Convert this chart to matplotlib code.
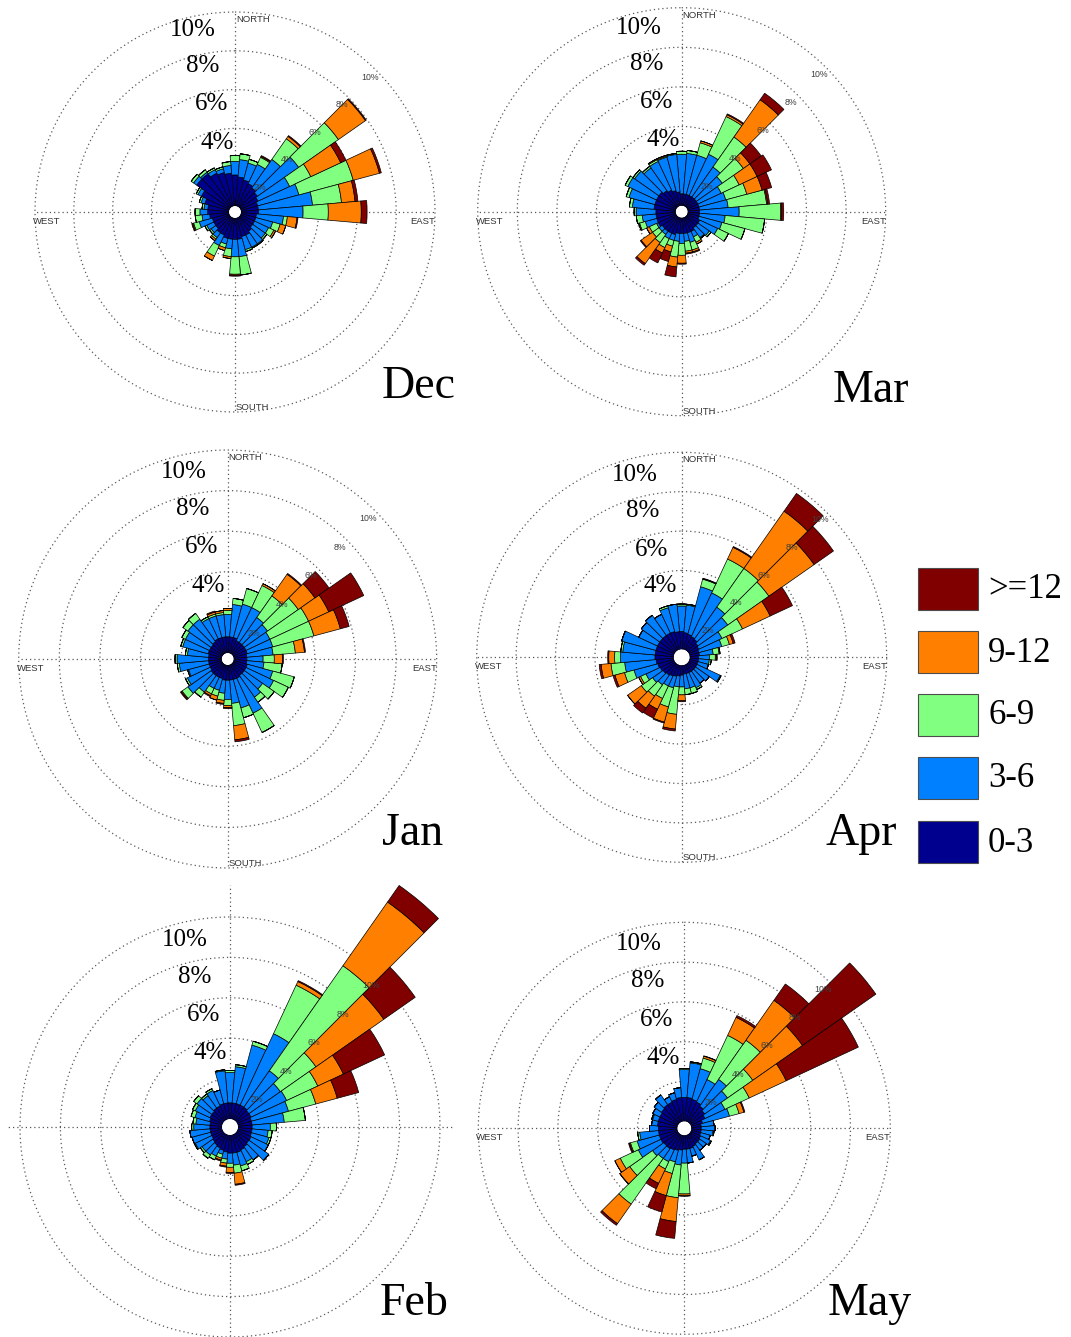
import numpy as np
import matplotlib
matplotlib.use("Agg")
import matplotlib.pyplot as plt
from matplotlib.patches import Rectangle

# ---------------- data (cumulative % per direction, 0..350 deg step 10) ----------------
DIRECTIONS = list(range(0, 360, 10))
SPEED_LABELS = [">=12", "9-12", "6-9", "3-6", "0-3"]
SPEED_COLORS = ["#800000", "#ff8000", "#80ff80", "#0080ff", "#00008f"]  # same order as labels

DEC_LT3 = [1.6,1.5,1.4,1.3,1.2,1.1,1.0,0.9,0.9,0.9,0.8,0.8,0.8,0.8,0.9,1.0,1.0,1.1,1.1,1.1,1.1,1.0,1.0,0.9,0.9,0.9,1.0,1.1,1.1,1.3,1.6,2.1,2.1,1.9,1.8,1.7]
DEC_LT6 = [2.3,2.4,2.3,2.4,3.0,3.7,2.8,3.1,3.7,3.2,2.2,1.7,1.6,1.6,1.7,1.7,1.7,2.0,2.0,1.6,1.4,1.6,1.3,1.2,1.3,1.6,1.4,1.5,1.3,1.5,1.8,2.3,2.2,2.1,2.0,2.1]
DEC_LT9 = [2.6,2.7,2.5,2.8,4.3,6.2,4.0,6.0,5.2,4.5,2.4,2.1,1.9,1.7,1.75,1.75,1.8,2.95,2.9,2.0,1.6,2.2,1.4,1.3,1.4,1.9,1.75,1.75,1.4,1.6,1.9,2.45,2.35,2.2,2.1,2.3]
DEC_LT12 = [2.6,2.7,2.5,2.85,4.45,7.9,5.7,7.4,5.9,6.2,2.9,2.4,2.0,1.7,1.75,1.75,1.8,2.95,2.95,2.1,1.75,2.45,1.5,1.3,1.4,1.95,1.75,1.75,1.4,1.6,1.9,2.45,2.35,2.2,2.1,2.3]
DEC_ALL = [2.6,2.7,2.5,2.9,4.5,7.95,6.0,7.5,6.05,6.5,2.95,2.4,2.0,1.7,1.75,1.75,1.8,2.95,3.0,2.1,1.75,2.45,1.5,1.3,1.4,2.0,1.75,1.75,1.4,1.6,1.9,2.45,2.35,2.2,2.1,2.3]

MAR_LT3 = [0.6,0.6,0.6,0.6,0.6,0.6,0.6,0.6,0.6,0.6,0.6,0.6,0.7,0.7,0.7,0.8,0.8,0.8,0.8,0.8,0.9,0.9,0.9,0.9,1.0,1.0,1.0,1.0,1.1,1.1,1.1,1.1,1.0,0.9,0.8,0.7]
MAR_LT6 = [2.6,2.65,2.65,2.9,2.45,2.2,1.9,2.0,2.05,2.6,1.9,1.8,1.7,1.4,1.3,1.1,1.3,1.2,1.3,1.2,1.2,1.2,1.1,1.1,1.1,1.6,1.7,2.0,2.2,2.45,2.7,2.6,2.4,2.5,2.55,2.6]
MAR_LT9 = [2.75,2.8,3.3,5.0,4.3,3.5,2.9,3.1,4.0,4.7,3.9,3.0,2.3,1.5,1.35,1.4,1.7,1.7,1.9,2.0,1.5,1.7,1.6,1.5,1.5,1.9,2.0,2.1,2.35,2.6,2.85,2.7,2.5,2.6,2.6,2.65]
MAR_LT12 = [2.75,2.8,3.4,5.1,6.6,3.9,3.9,3.9,4.05,4.75,3.9,3.0,2.3,1.5,1.35,1.5,1.8,1.8,2.3,2.5,1.8,2.0,2.9,2.2,1.65,1.95,2.0,2.1,2.35,2.6,2.85,2.7,2.5,2.65,2.65,2.65]
MAR_ALL = [2.75,2.8,3.4,5.15,7.0,4.6,4.7,4.4,4.15,4.85,3.9,3.0,2.3,1.5,1.35,1.5,1.85,1.85,2.35,3.0,2.3,2.55,3.0,2.25,1.65,1.95,2.0,2.1,2.35,2.6,2.85,2.7,2.5,2.65,2.65,2.65]

JAN_LT3 = [0.8,0.8,0.8,0.7,0.7,0.7,0.7,0.7,0.65,0.65,0.65,0.7,0.7,0.7,0.7,0.75,0.75,0.75,0.75,0.75,0.7,0.7,0.7,0.7,0.65,0.65,0.65,0.65,0.65,0.7,0.7,0.7,0.75,0.8,0.8,0.8]
JAN_LT6 = [1.9,2.4,2.5,2.5,2.2,2.1,2.0,2.0,1.95,1.45,1.5,2.0,2.2,1.8,2.0,2.65,2.2,1.9,1.7,1.4,1.3,1.3,1.7,2.1,1.9,1.7,2.1,2.2,1.7,2.0,2.0,2.1,2.1,1.9,1.9,1.9]
JAN_LT9 = [2.1,2.7,3.3,3.7,3.5,3.95,4.1,4.1,3.05,2.0,2.4,3.1,3.0,2.5,2.3,3.7,2.7,3.0,2.0,1.75,1.6,1.6,2.0,2.45,2.0,1.75,2.2,2.3,1.8,2.1,2.2,2.4,2.45,2.0,2.0,2.0]
JAN_LT12 = [2.2,2.7,3.3,3.8,4.8,4.95,5.2,5.45,3.5,2.4,2.4,3.1,3.0,2.5,2.3,3.7,2.7,3.7,2.1,1.9,1.8,1.7,2.0,2.5,2.0,1.75,2.2,2.3,1.8,2.1,2.2,2.4,2.45,2.0,2.1,2.1]
JAN_ALL = [2.2,2.7,3.3,3.8,4.85,5.8,7.1,5.9,3.55,2.45,2.4,3.1,3.0,2.5,2.3,3.7,2.7,3.8,2.15,1.95,1.8,1.75,2.0,2.55,2.0,1.75,2.2,2.3,1.8,2.1,2.2,2.4,2.45,2.0,2.15,2.1]

APR_LT3 = [0.9,0.85,0.8,0.75,0.7,0.6,0.55,0.5,0.5,0.45,0.45,0.45,0.45,0.45,0.45,0.45,0.45,0.45,0.5,0.55,0.6,0.65,0.7,0.75,0.8,0.85,0.9,0.95,0.95,0.95,0.95,0.95,0.95,0.95,0.95,0.9]
APR_LT6 = [2.2,2.25,3.3,3.2,2.7,2.45,1.85,1.7,1.2,1.0,1.0,1.0,1.75,1.3,1.2,1.3,1.2,1.2,1.1,1.1,1.2,1.2,1.3,1.4,1.6,2.1,2.5,2.7,2.6,2.75,2.0,2.1,2.2,2.0,2.2,2.3]
APR_LT9 = [2.3,2.3,3.7,5.1,5.1,5.0,3.0,2.1,1.5,1.3,1.1,1.0,1.8,1.3,1.2,1.4,1.5,1.5,1.5,2.5,2.2,1.9,2.0,2.1,1.9,2.6,3.2,3.0,2.7,2.75,2.0,2.1,2.2,2.0,2.3,2.3]
APR_LT12 = [2.3,2.3,3.72,5.75,8.65,7.8,4.55,2.3,1.55,1.35,1.1,1.0,1.8,1.3,1.2,1.4,1.5,1.5,1.8,3.25,3.0,2.5,2.75,2.95,2.0,3.1,3.7,3.3,2.7,2.75,2.0,2.1,2.2,2.0,2.3,2.3]
APR_ALL = [2.3,2.3,3.75,5.8,9.75,9.0,5.8,2.4,1.55,1.4,1.1,1.0,1.8,1.3,1.2,1.4,1.5,1.5,1.85,3.35,3.05,3.0,3.05,2.95,2.0,3.2,3.8,3.35,2.7,2.75,2.0,2.1,2.2,2.0,2.3,2.3]

FEB_LT3 = [0.8,0.8,0.8,0.8,0.8,0.75,0.75,0.7,0.7,0.7,0.7,0.7,0.75,0.75,0.8,0.85,0.9,0.9,0.9,0.85,0.8,0.75,0.7,0.65,0.6,0.6,0.6,0.6,0.6,0.65,0.7,0.7,0.75,0.75,0.8,0.8]
FEB_LT6 = [2.3,2.6,3.8,4.7,3.0,2.65,2.7,2.6,2.3,1.6,1.5,1.6,1.7,1.95,1.6,1.5,1.6,1.5,1.4,1.2,1.0,1.2,1.3,1.3,1.5,1.55,1.6,1.4,1.3,1.4,1.5,1.6,1.5,1.6,1.5,2.4]
FEB_LT9 = [2.4,2.7,4.0,7.35,9.35,4.8,4.4,4.0,3.35,1.9,1.7,1.7,1.7,1.95,1.6,1.65,1.85,1.9,1.6,1.4,1.2,1.4,1.5,1.4,1.55,1.55,1.6,1.5,1.45,1.6,1.65,1.8,1.6,1.7,1.5,2.45]
FEB_LT12 = [2.4,2.7,4.0,7.55,13.2,8.9,5.8,5.1,3.35,1.9,1.7,1.7,1.7,1.95,1.6,1.65,1.85,2.45,1.85,1.55,1.3,1.4,1.5,1.4,1.55,1.55,1.6,1.5,1.45,1.6,1.65,1.8,1.6,1.7,1.5,2.45]
FEB_ALL = [2.4,2.7,4.0,7.6,14.2,10.8,8.05,6.2,3.35,1.9,1.7,1.7,1.7,1.95,1.6,1.65,1.85,2.5,1.9,1.6,1.35,1.4,1.5,1.4,1.55,1.55,1.6,1.5,1.45,1.6,1.65,1.8,1.6,1.7,1.5,2.45]

MAY_LT3 = [1.2,1.2,1.15,1.1,1.0,0.9,0.8,0.6,0.5,0.5,0.5,0.5,0.55,0.6,0.6,0.65,0.7,0.7,0.7,0.75,0.8,0.85,0.9,0.9,0.95,0.95,0.95,0.95,1.0,1.0,1.0,1.05,1.1,1.1,1.15,1.2]
MAY_LT6 = [2.6,2.95,2.75,2.35,2.65,2.3,1.9,2.0,1.15,1.2,1.1,1.0,1.1,1.0,1.0,1.4,1.1,1.4,1.4,1.5,1.4,1.5,1.5,1.6,2.2,2.1,1.9,1.4,1.3,1.3,1.4,1.5,1.7,1.4,1.5,1.7]
MAY_LT9 = [2.65,3.0,3.3,4.8,5.05,3.85,3.25,2.5,1.15,1.2,1.15,1.0,1.15,1.0,1.0,1.4,1.1,1.4,2.95,3.15,2.0,1.9,4.3,3.0,3.2,2.45,2.0,1.4,1.3,1.35,1.4,1.5,1.7,1.4,1.5,1.7]
MAY_LT12 = [2.65,3.0,3.4,5.8,7.5,6.9,5.3,2.75,1.15,1.2,1.15,1.0,1.15,1.0,1.0,1.4,1.1,1.4,3.05,4.35,3.15,2.7,5.5,3.6,3.5,2.5,2.0,1.4,1.3,1.35,1.4,1.5,1.7,1.4,1.5,1.7]
MAY_ALL = [2.65,3.0,3.42,5.9,8.5,11.4,9.3,2.8,1.15,1.2,1.15,1.0,1.15,1.0,1.0,1.4,1.1,1.4,3.05,5.2,4.0,3.0,5.6,3.62,3.5,2.55,2.0,1.4,1.3,1.35,1.4,1.5,1.7,1.4,1.5,1.7]

RING_VALUES = [2, 4, 6, 8, 10]
BIG_LABELS = ["10%", "8%", "6%", "4%"]

# ---------------- layout ----------------
W, H = 1071, 1337
fig = plt.figure(figsize=(W / 100, H / 100), dpi=100)
fig.patch.set_facecolor("white")

SERIF = ["Liberation Serif", "DejaVu Serif"]
SANS = ["Liberation Sans", "DejaVu Sans"]
RMAX = 15.0

panels = [
    dict(name="Dec", c=(235, 212), h=6, s=19.4,
         data=[DEC_LT3, DEC_LT6, DEC_LT9, DEC_LT12, DEC_ALL],
         big=[(-19, -182), (-16, -146), (-7, -108), (-1, -69)],
         month=(382, 398), dirs="NESW", lines=(10, 10, 10, 10)),
    dict(name="Mar", c=(681.7, 211.7), h=6, s=19.8,
         data=[MAR_LT3, MAR_LT6, MAR_LT9, MAR_LT12, MAR_ALL],
         big=[(-20, -184), (-18, -148), (-8, -110), (-2, -72)],
         month=(833, 402), dirs="NESW", lines=(10, 10, 10, 10)),
    dict(name="Jan", c=(227.7, 659), h=6, s=20.3,
         data=[JAN_LT3, JAN_LT6, JAN_LT9, JAN_LT12, JAN_ALL],
         big=[(-21, -187), (-18, -150), (-9, -112), (-3, -73)],
         month=(382, 845), dirs="NESW", lines=(10, 10, 10, 10)),
    dict(name="Apr", c=(681.7, 657.3), h=8, s=19.7,
         data=[APR_LT3, APR_LT6, APR_LT9, APR_LT12, APR_ALL],
         big=[(-24, -182), (-22, -146), (-13, -107), (-5, -71)],
         month=(826, 845), dirs="NESW", lines=(10, 10, 10, 10)),
    dict(name="Feb", c=(230, 1127), h=8, s=20.2,
         data=[FEB_LT3, FEB_LT6, FEB_LT9, FEB_LT12, FEB_ALL],
         big=[(-22, -187), (-19, -150), (-10, -112), (-3, -74)],
         month=(380, 1315), dirs="", lines=(11.6, 10.6, 11, 10.6)),
    dict(name="May", c=(684.3, 1128.3), h=7, s=19.9,
         data=[MAY_LT3, MAY_LT6, MAY_LT9, MAY_LT12, MAY_ALL],
         big=[(-23, -184), (-20, -147), (-11, -108), (-4, -70)],
         month=(828, 1315), dirs="EW", lines=(10, 10, 10, 10)),
]

theta = np.deg2rad(DIRECTIONS)
width = np.deg2rad(10)
fill_colors = SPEED_COLORS[::-1]  # 0-3 first
dot = (0, (1, 2.4))


def fx(x):
    return x / W


def fy(y):
    return 1 - y / H


for p in panels:
    cx, cy = p["c"]
    h, s = p["h"], p["s"]
    R = h + s * RMAX
    ax = fig.add_axes([fx(cx - R), fy(cy + R), 2 * R / W, 2 * R / H], projection="polar")
    ax.set_theta_zero_location("N")
    ax.set_theta_direction(-1)
    ax.set_rorigin(-h / s)
    ax.set_rlim(0, RMAX)
    ax.axis("off")
    ax.patch.set_alpha(0)

    # dotted rings and axes lines
    tt = np.linspace(0, 2 * np.pi, 500)
    for v in RING_VALUES:
        ax.plot(tt, np.full_like(tt, v), ls=dot, color="0.35", lw=0.9, zorder=1)
    for ang, L in zip([0, 90, 180, 270], p["lines"]):
        a = np.deg2rad(ang)
        ax.plot([a, a], [0, L], ls=dot, color="0.35", lw=0.9, zorder=1)

    # stacked bars
    bottom = np.zeros(len(DIRECTIONS))
    for level, col in zip(p["data"], fill_colors):
        top = np.array(level, dtype=float)
        hgt = np.clip(top - bottom, 0, None)
        ax.bar(theta, hgt, width=width, bottom=bottom, color=col,
               edgecolor="black", linewidth=0.5, zorder=3)
        bottom = np.maximum(bottom, top)

    # small scale labels along NE
    for v in RING_VALUES:
        ax.text(np.deg2rad(45), v - 0.5, f"{v}%", fontsize=6.3, color="0.25",
                ha="center", va="center", family=SANS, zorder=6)

    # big percent labels
    for lab, (dx, dy) in zip(BIG_LABELS, p["big"]):
        fig.text(fx(cx + dx), fy(cy + dy), lab, fontsize=18, family=SERIF,
                 ha="right", va="center")

    # direction labels
    R10 = h + 10 * s
    if "N" in p["dirs"]:
        fig.text(fx(cx + 1), fy(cy - R10 + 3), "NORTH", fontsize=6.8, family=SANS,
                 color="0.2", ha="left", va="top")
    if "E" in p["dirs"]:
        fig.text(fx(cx + R10), fy(cy + 5), "EAST", fontsize=6.8, family=SANS,
                 color="0.2", ha="right", va="top")
    if "S" in p["dirs"]:
        fig.text(fx(cx + 1), fy(cy + R10), "SOUTH", fontsize=6.8, family=SANS,
                 color="0.2", ha="left", va="bottom")
    if "W" in p["dirs"]:
        fig.text(fx(cx - R10 - 2), fy(cy + 5), "WEST", fontsize=6.8, family=SANS,
                 color="0.2", ha="left", va="top")

    # month label
    mx, my = p["month"]
    fig.text(fx(mx), fy(my), p["name"], fontsize=33, family=SERIF,
             ha="left", va="baseline")

# ---------------- legend ----------------
box_x, box_w, box_h = 918, 60, 42
box_tops = [568, 631, 694, 757, 821]
for lab, col, top in zip(SPEED_LABELS, SPEED_COLORS, box_tops):
    fig.patches.append(Rectangle((fx(box_x), fy(top + box_h)), box_w / W, box_h / H,
                                 transform=fig.transFigure, facecolor=col,
                                 edgecolor="0.3", linewidth=0.8))
    fig.text(fx(988), fy(top + box_h / 2 + 1), lab, fontsize=25, family=SERIF,
             ha="left", va="center")

fig.savefig("out.png", dpi=100, facecolor="white")
